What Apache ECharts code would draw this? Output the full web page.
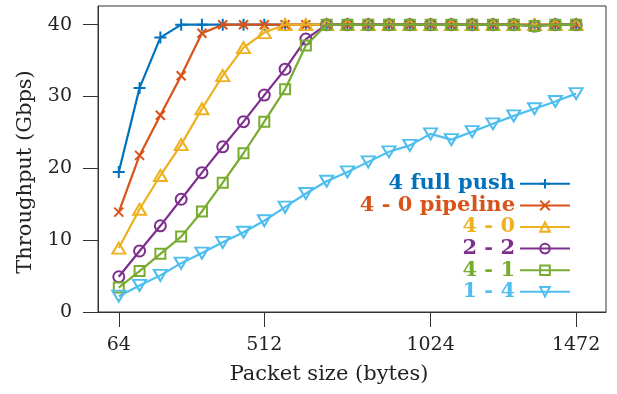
<!DOCTYPE html>
<html>
<head>
<meta charset="utf-8">
<script src="https://cdn.jsdelivr.net/npm/echarts@6/dist/echarts.min.js"></script>
<style>
  html, body { margin: 0; padding: 0; background: #fff; }
  #chart { width: 617px; height: 394px; }
</style>
</head>
<body>
<div id="chart"></div>
<script>
// packet sizes (bytes)
var packetSizes = [64, 128, 192, 256, 320, 384, 448, 512, 576, 640, 704, 768,
    832, 896, 960, 1024, 1088, 1152, 1216, 1280, 1344, 1408, 1472];
var xTicks = [64, 512, 1024, 1472];
var yTicks = [0, 10, 20, 30, 40];

// throughput (Gbps)
var fullPush = [19.5, 31.2, 38.2, 40, 40, 40, 40, 40, 40, 40, 40, 40,
    40, 40, 40, 40, 40, 40, 40, 40, 40, 40, 40];
var pipeline40 = [13.9, 21.8, 27.4, 32.9, 38.8, 40, 40, 40, 40, 40, 40, 40,
    40, 40, 40, 40, 40, 40, 40, 40, 40, 40, 40];
var s40 = [8.9, 14.3, 19.0, 23.3, 28.3, 32.9, 36.8, 38.9, 40, 40, 40, 40,
    40, 40, 40, 40, 40, 40, 40, 40, 40, 40, 40];
var s22 = [4.9, 8.5, 12.0, 15.7, 19.4, 23.0, 26.5, 30.2, 33.8, 38.0, 40, 40,
    40, 40, 40, 40, 40, 40, 40, 40, 39.8, 40, 40];
var s41 = [3.4, 5.7, 8.1, 10.5, 14.0, 18.0, 22.1, 26.5, 31.0, 37.1, 40, 40,
    40, 40, 40, 40, 40, 40, 40, 40, 39.8, 40, 40];
var s14 = [2.2, 3.7, 5.1, 6.8, 8.2, 9.7, 11.1, 12.7, 14.6, 16.5, 18.2, 19.5,
    20.9, 22.3, 23.2, 24.8, 24.0, 25.1, 26.2, 27.3, 28.3, 29.3, 30.4];

var names = ['4 full push', '4 - 0 pipeline', '4 - 0', '2 - 2', '4 - 1', '1 - 4'];
var colors = ['#0072BD', '#D95319', '#EDB120', '#7E2F8E', '#77AC30', '#4DBEEE'];
var values = [fullPush, pipeline40, s40, s22, s41, s14];
var symbols = [
    'path://M5,0L5,10M0,5L10,5',
    'path://M0,0L10,10M10,0L0,10',
    'path://M6,0L12,10L0,10Z',
    'circle',
    'rect',
    'path://M0,0L12,0L6,10Z'
];
var symbolSizes = [12, 9, [13, 11], 11, 10, [13, 11]];

var chart = echarts.init(document.getElementById('chart'));
var font = 'DejaVu Serif';

var series = [];
for (var i = 0; i < names.length; i++) {
    series.push({
        name: names[i],
        type: 'line',
        data: packetSizes.map(function (x, j) { return [x, values[i][j]]; }),
        symbol: symbols[i],
        symbolSize: symbolSizes[i],
        showAllSymbol: true,
        lineStyle: { color: colors[i], width: 2.2 },
        itemStyle: { color: 'rgba(0,0,0,0)', borderColor: colors[i], borderWidth: 2 },
        emphasis: { disabled: true },
        z: 2 + i
    });
}

var option = {
    animation: false,
    backgroundColor: '#fff',
    grid: {
        left: 98, right: 11, top: 6, bottom: 82,
        show: true, borderColor: '#333', borderWidth: 1
    },
    legend: {
        data: names.map(function (n, i) {
            return { name: n, textStyle: { color: colors[i] } };
        }),
        orient: 'vertical',
        align: 'right',
        right: 41,
        top: 168,
        itemWidth: 50,
        itemHeight: 12,
        itemGap: 0,
        textStyle: { fontFamily: font, fontWeight: 'bold', fontSize: 21, lineHeight: 21.6 }
    },
    xAxis: {
        type: 'value',
        min: 0,
        max: 1564,
        name: 'Packet size (bytes)',
        nameLocation: 'middle',
        nameGap: 52,
        nameTextStyle: { fontFamily: font, fontSize: 21, color: '#222', padding: [0, 46, 0, 0] },
        axisLine: { lineStyle: { color: '#333', width: 1 } },
        axisTick: { customValues: xTicks, length: 15, lineStyle: { color: '#333' } },
        axisLabel: {
            customValues: xTicks, margin: 24, fontFamily: font, fontSize: 19, color: '#222',
            formatter: function (v) { return String(v); }
        },
        splitLine: { show: false }
    },
    yAxis: {
        type: 'value',
        min: 0,
        max: 42.6,
        name: 'Throughput (Gbps)',
        nameLocation: 'middle',
        nameGap: 62,
        nameTextStyle: { fontFamily: font, fontSize: 21, color: '#222', padding: [0, 26, 0, 0] },
        axisLine: { show: true, lineStyle: { color: '#333', width: 1 } },
        axisTick: { show: true, customValues: yTicks, length: 15, lineStyle: { color: '#333' } },
        axisLabel: {
            customValues: yTicks, margin: 26, fontFamily: font, fontSize: 19, color: '#222',
            formatter: function (v) { return String(v); }
        },
        splitLine: { show: false }
    },
    series: series
};
chart.setOption(option);
</script>
</body>
</html>
